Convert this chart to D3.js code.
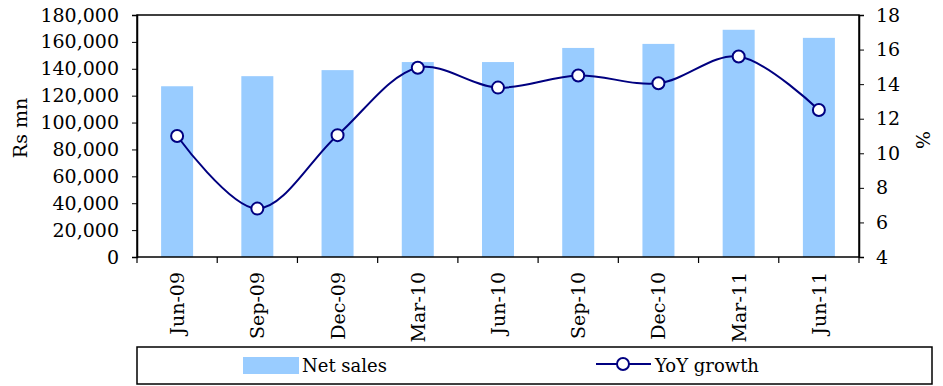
<!DOCTYPE html>
<html><head><meta charset="utf-8">
<script src="https://cdn.jsdelivr.net/npm/d3@7"></script>
<style>body{margin:0;background:#fff}svg{display:block}svg text{font-family:"DejaVu Serif",serif !important;fill:#000}</style>
</head><body>
<svg id="c" width="943" height="386"></svg>
<script>
const categories = ["Jun-09","Sep-09","Dec-09","Mar-10","Jun-10","Sep-10","Dec-10","Mar-11","Jun-11"];
const netSales = [127000,134500,139000,145000,145000,155500,158500,169000,163000];
const yoyGrowth = [11.0,6.8,11.05,14.95,13.8,14.5,14.05,15.6,12.5];
const leftTicks = [0,20000,40000,60000,80000,100000,120000,140000,160000,180000];
const rightTicks = [4,6,8,10,12,14,16,18];

const svg = d3.select("#c");
const m = {l:137, r:859, t:15, b:257};
const xb = d3.scaleBand().domain(categories).range([m.l, m.r]);
const yL = d3.scaleLinear().domain([0,180000]).range([m.b, m.t]);
const yR = d3.scaleLinear().domain([4,18]).range([m.b, m.t]);
const fs = 19;

svg.append("g").selectAll("rect").data(netSales).join("rect")
  .attr("x",(d,i)=>xb(categories[i]) + xb.bandwidth()/2 - 16)
  .attr("width",32)
  .attr("y",d=>yL(d)).attr("height",d=>m.b-yL(d))
  .attr("fill","#99ccff");

svg.append("rect").attr("x",m.l).attr("y",m.t).attr("width",m.r-m.l).attr("height",m.b-m.t)
  .attr("fill","none").attr("stroke","#000").attr("stroke-width",1.5);

const gl = svg.append("g").attr("transform",`translate(${m.l},0)`)
  .call(d3.axisLeft(yL).tickValues(leftTicks).tickSize(5).tickPadding(13).tickFormat(d3.format(",")));
gl.select(".domain").attr("stroke-width",1.5);
gl.selectAll("text").style("font-size",fs+"px");

const gr = svg.append("g").attr("transform",`translate(${m.r},0)`)
  .call(d3.axisRight(yR).tickValues(rightTicks).tickSize(5).tickPadding(12));
gr.select(".domain").attr("stroke-width",1.5);
gr.selectAll("text").style("font-size",fs+"px");

const bounds = categories.map(c=>xb(c)).concat([m.r]);
svg.append("g").selectAll("line").data(bounds).join("line")
  .attr("x1",d=>d).attr("x2",d=>d).attr("y1",m.b).attr("y2",m.b+6)
  .attr("stroke","#000").attr("stroke-width",1.2);
svg.append("g").selectAll("text").data(categories).join("text")
  .attr("transform",d=>`translate(${xb(d)+xb.bandwidth()/2+7},272) rotate(-90)`)
  .attr("text-anchor","end").style("font-size",fs+"px").text(d=>d);

const line = d3.line().x((d,i)=>xb(categories[i])+xb.bandwidth()/2).y(d=>yR(d)).curve(d3.curveCatmullRom.alpha(0.5));
svg.append("path").datum(yoyGrowth).attr("d",line).attr("fill","none").attr("stroke","#000080").attr("stroke-width",2);
svg.append("g").selectAll("circle").data(yoyGrowth).join("circle")
  .attr("cx",(d,i)=>xb(categories[i])+xb.bandwidth()/2).attr("cy",d=>yR(d)).attr("r",6)
  .attr("fill","#fff").attr("stroke","#000080").attr("stroke-width",2);

svg.append("text").attr("transform","translate(27,128) rotate(-90)").attr("text-anchor","middle").style("font-size",fs+"px").text("Rs mn");
svg.append("text").attr("transform","translate(916,140) rotate(90)").attr("text-anchor","middle").style("font-size",fs+"px").text("%");

svg.append("rect").attr("x",137).attr("y",347).attr("width",795).attr("height",37).attr("fill","none").attr("stroke","#000").attr("stroke-width",1.5);
svg.append("rect").attr("x",243).attr("y",357).attr("width",56).attr("height",17).attr("fill","#99ccff");
svg.append("text").attr("x",302).attr("y",372).style("font-size","18px").text("Net sales");
svg.append("line").attr("x1",596).attr("x2",651).attr("y1",364).attr("y2",364).attr("stroke","#000080").attr("stroke-width",2);
svg.append("circle").attr("cx",623).attr("cy",364).attr("r",6).attr("fill","#fff").attr("stroke","#000080").attr("stroke-width",2);
svg.append("text").attr("x",655).attr("y",372).style("font-size","18px").text("YoY growth");
</script>
</body></html>
